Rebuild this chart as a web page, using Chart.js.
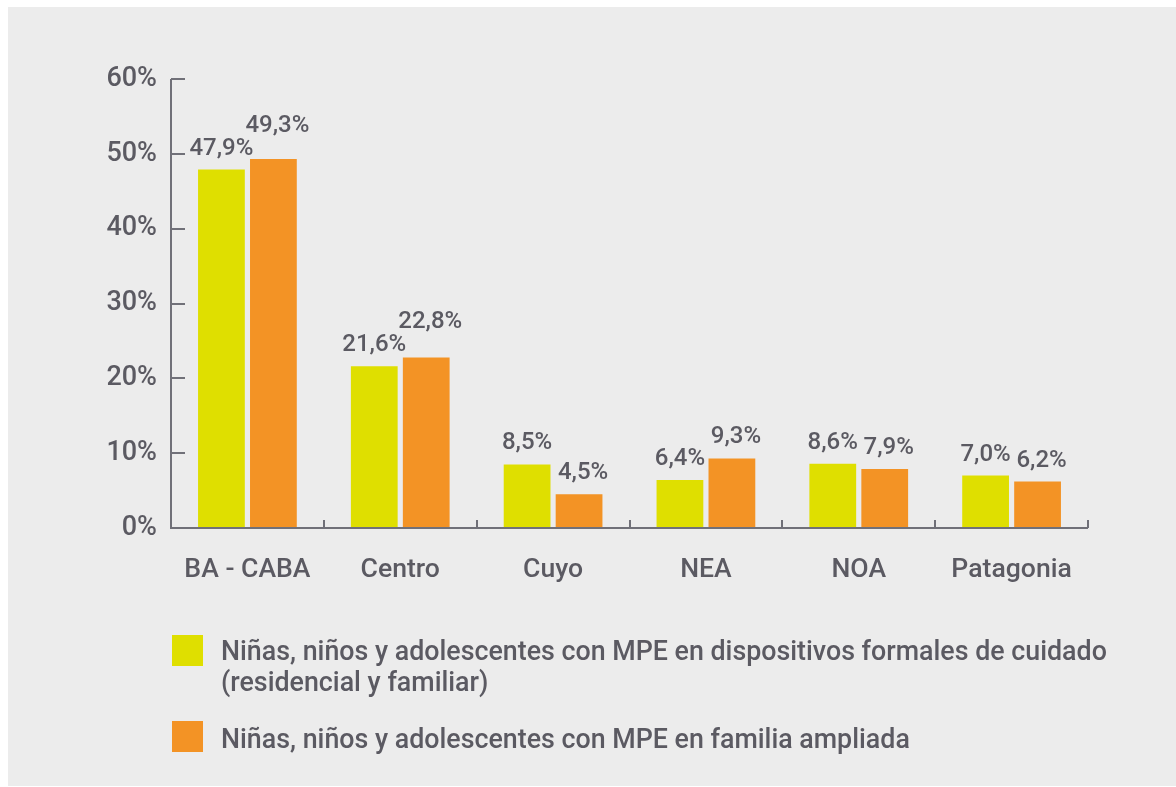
<!DOCTYPE html>
<html><head><meta charset="utf-8">
<script src="https://cdn.jsdelivr.net/npm/chart.js@4.4.1/dist/chart.umd.min.js"></script>
<style>
html,body{margin:0;padding:0;background:#fff;width:1176px;height:787px;overflow:hidden;}
#bg{position:absolute;left:8px;top:7px;width:1168px;height:779px;background:#ececec;}
#c{position:absolute;left:0;top:0;}
.sw{position:absolute;left:172px;width:31px;height:31px;}
.lt{position:absolute;left:221px;font-family:Roboto,sans-serif;font-weight:500;font-size:26.8px;line-height:31px;color:#5b5a62;white-space:nowrap;}
</style></head>
<body>
<div id="bg"></div>
<canvas id="c" width="1176" height="787"></canvas>
<div id="legend"></div>
<script>
const categories = ["BA - CABA", "Centro", "Cuyo", "NEA", "NOA", "Patagonia"];
const formalCare = [47.9, 21.6, 8.5, 6.4, 8.6, 7.0];
const extendedFamily = [49.3, 22.8, 4.5, 9.3, 7.9, 6.2];
const seriesNames = [
  "Niñas, niños y adolescentes con MPE en dispositivos formales de cuidado\n(residencial y familiar)",
  "Niñas, niños y adolescentes con MPE en familia ampliada"
];
const yTicks = [0, 10, 20, 30, 40, 50, 60];

const YELLOW = "#dfdf00", ORANGE = "#f39325", TEXT = "#5b5a62", AXIS = "#707078";
const FONT = "Roboto, sans-serif";

// HTML legend
const legend = document.getElementById('legend');
const swatchTops = [635, 721];
const textTops = [636, 724];
[YELLOW, ORANGE].forEach((col, i) => {
  const sw = document.createElement('div');
  sw.className = 'sw'; sw.style.top = swatchTops[i] + 'px'; sw.style.background = col;
  legend.appendChild(sw);
  seriesNames[i].split('\n').forEach((ln, j) => {
    const t = document.createElement('div');
    t.className = 'lt'; t.textContent = ln;
    t.style.top = (textTops[i] + j * 31) + 'px';
    legend.appendChild(t);
  });
});

const fmt = v => v.toFixed(1).replace('.', ',') + '%';

const decor = {
  id: 'decor',
  afterDatasetsDraw(chart) {
    const ctx = chart.ctx;
    ctx.save();
    ctx.font = "500 24px " + FONT;
    ctx.fillStyle = TEXT;
    ctx.textAlign = 'center';
    ctx.textBaseline = 'alphabetic';
    const m0 = chart.getDatasetMeta(0), m1 = chart.getDatasetMeta(1);
    const d0 = chart.data.datasets[0].data, d1 = chart.data.datasets[1].data;
    for (let i = 0; i < d0.length; i++) {
      const b0 = m0.data[i], b1 = m1.data[i];
      const t0 = fmt(d0[i]), t1 = fmt(d1[i]);
      const w0 = ctx.measureText(t0).width, w1 = ctx.measureText(t1).width;
      const x0 = b0.x, x1 = b1.x + 4;
      const y0 = b0.y - 15;
      let y1 = b1.y - 15;
      const hOverlap = (x0 + w0 / 2 + 3) > (x1 - w1 / 2);
      const vOverlap = Math.abs(y0 - y1) < 20;
      if (hOverlap && vOverlap) y1 = Math.min(y1, y0 - 23);
      ctx.fillText(t0, x0, y0);
      ctx.fillText(t1, x1, y1);
    }
    ctx.restore();
  },
  afterDraw(chart) {
    const ctx = chart.ctx, x = chart.scales.x, y = chart.scales.y;
    const left = chart.chartArea.left, bottom = chart.chartArea.bottom;
    ctx.save();
    ctx.strokeStyle = AXIS;
    ctx.lineWidth = 2;
    ctx.beginPath();
    ctx.moveTo(left, y.getPixelForValue(yTicks[yTicks.length - 1]));
    ctx.lineTo(left, bottom + 1);
    ctx.stroke();
    ctx.beginPath();
    ctx.moveTo(left, bottom);
    ctx.lineTo(chart.chartArea.right, bottom);
    ctx.stroke();
    yTicks.forEach(v => {
      const py = Math.round(y.getPixelForValue(v));
      ctx.beginPath();
      ctx.moveTo(left, py);
      ctx.lineTo(left + 14, py);
      ctx.stroke();
    });
    for (let i = 0; i <= categories.length; i++) {
      const px = Math.round(x.getPixelForValue(i - 0.5));
      ctx.beginPath();
      ctx.moveTo(px, bottom);
      ctx.lineTo(px, bottom - 8);
      ctx.stroke();
    }
    ctx.restore();
  }
};

new Chart(document.getElementById('c'), {
  type: 'bar',
  data: {
    labels: categories,
    datasets: [
      { label: seriesNames[0], data: formalCare, backgroundColor: YELLOW },
      { label: seriesNames[1], data: extendedFamily, backgroundColor: ORANGE }
    ]
  },
  options: {
    responsive: false,
    animation: false,
    devicePixelRatio: 1,
    layout: { padding: { left: 0, top: 79, right: 88, bottom: 0 } },
    datasets: { bar: { categoryPercentage: 0.68, barPercentage: 0.9 } },
    plugins: { legend: { display: false }, tooltip: { enabled: false } },
    scales: {
      x: {
        grid: { display: false, drawTicks: false },
        border: { display: false },
        ticks: { color: TEXT, font: { family: FONT, size: 26.6, weight: 500 }, padding: 26 },
        afterFit: s => { s.height = 259; }
      },
      y: {
        min: 0, max: 60,
        afterBuildTicks: s => { s.ticks = yTicks.map(v => ({ value: v })); },
        grid: { display: false, drawTicks: false },
        border: { display: false },
        ticks: { color: TEXT, font: { family: FONT, size: 27, weight: 500 }, padding: 14, callback: v => v + '%' },
        afterFit: s => { s.width = 171; }
      }
    }
  },
  plugins: [decor]
});
</script>
</body></html>
